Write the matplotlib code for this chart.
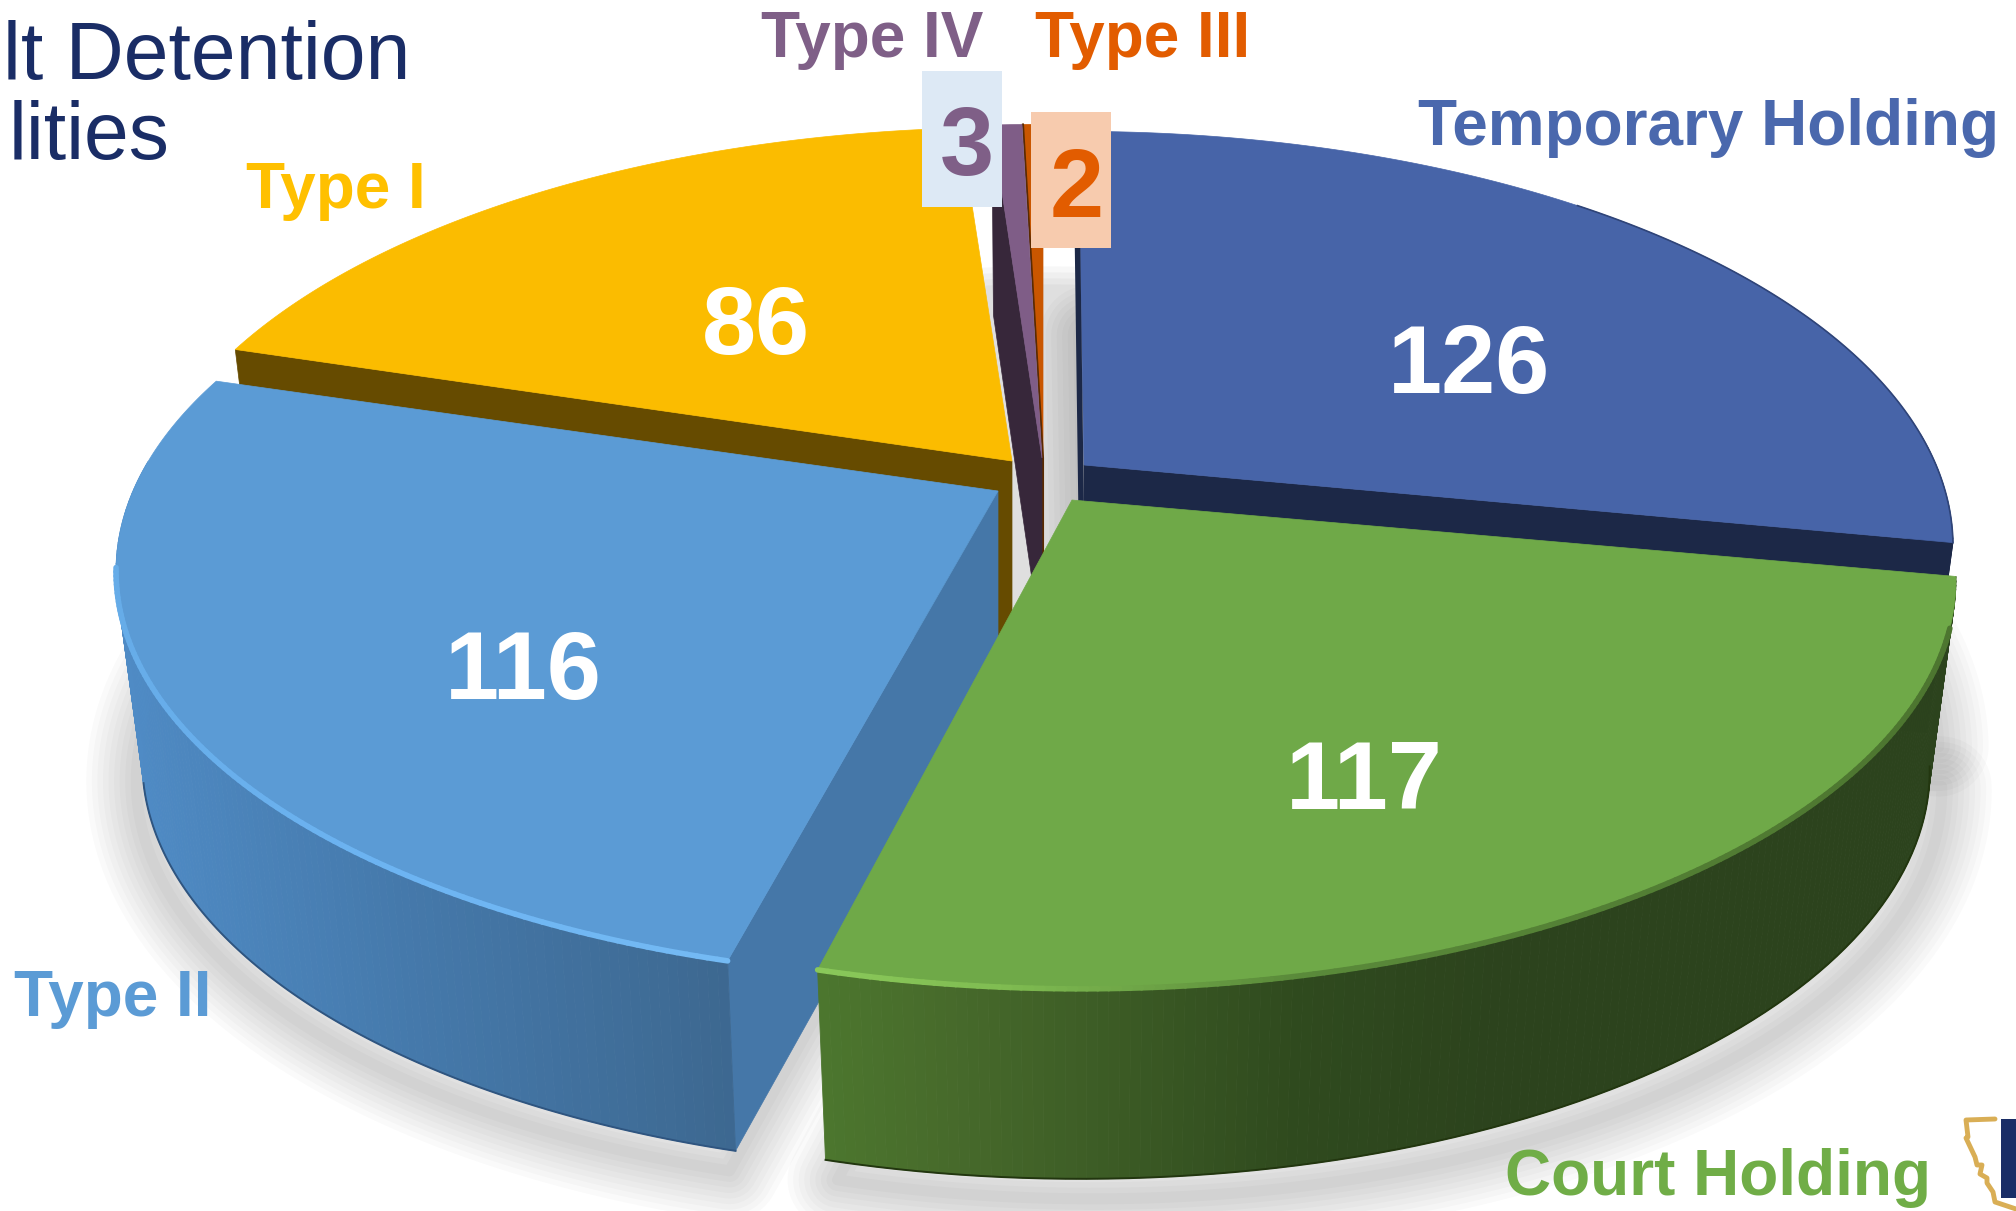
import matplotlib

matplotlib.use("Agg")
import matplotlib.pyplot as plt
import numpy as np
from matplotlib.collections import LineCollection, PolyCollection
from matplotlib.colors import to_rgb
from matplotlib.patches import Polygon, Rectangle

plt.rcParams["font.family"] = ["Liberation Sans", "DejaVu Sans"]

# clockwise from twelve o'clock
categories = ["Temporary Holding", "Court Holding", "Type II", "Type I", "Type IV", "Type III"]
values = [126, 117, 116, 86, 3, 2]
colors = ["#4764a8", "#6fa948", "#5b9bd5", "#fbbc00", "#7f5d87", "#c95600"]
label_colors = ["#4a68ad", "#70ad47", "#5b9bd5", "#ffc000", "#7f5f87", "#e25c00"]

# exploded position of each slice tip, in pixels
tip_x = [1084, 1072, 998, 1012, 1042, 1043]
tip_y = [465, 500, 491, 461, 458, 458]
# small per-slice correction of the rim against the tip
rim_shift = [-6, 9, -7, -2, 0, 0]
rim_squash = [1.0, 0.985, 0.985, 1.0, 1.0, 1.0]
cut_colors = ["#1c2847", "#4c762e", "#4577a8", "#664b00", "#37273a", "#5a2a00"]
# which cut side of the slice the camera sees
cut_side = ["end", None, "start", "start", "start", None]
draw_order = [0, 5, 4, 3, 2, 1]

# gradient of the outer wall, colour stops against x
wall_stops = {
    0: ([1900, 2000], ["#1c2847", "#1c2847"]),
    1: ([820, 950, 1300, 1500], ["#4c762e", "#476a2b", "#2f4a1e", "#2c431d"]),
    2: ([115, 400, 730], ["#4f8bc5", "#4579ab", "#3d6890"]),
    3: ([200, 400], ["#664b00", "#664b00"]),
    4: ([900, 1100], ["#37273a", "#37273a"]),
    5: ([900, 1100], ["#5a2a00", "#5a2a00"]),
}
base_edge = {1: "#22360f", 2: "#2f5580"}

# perspective of the disc
R = 858
S = 399
K = 0.196
DEPTH = 190
BOTTOM_SCALE = 0.97


def rim_top(theta, i):
    u, v = np.sin(theta), np.cos(theta)
    w = 1 + K * v
    return tip_x[i] + rim_shift[i] + R * u / w, tip_y[i] - rim_squash[i] * S * v / w


def rim_bottom(theta, i):
    u, v = np.sin(theta), np.cos(theta)
    w = 1 + K * v
    return tip_x[i] + rim_shift[i] + BOTTOM_SCALE * R * u / w, tip_y[i] + DEPTH - rim_squash[i] * S * v / w


def lerp_colors(x, stops):
    xs, cols = stops
    rgb = np.array([to_rgb(c) for c in cols])
    return np.column_stack([np.interp(x, xs, rgb[:, n]) for n in range(3)])


def soft_shadow(ax, xy, dx, dy):
    pts = np.column_stack([xy[0] + dx, xy[1] + dy])
    for lw in range(72, 4, -8):
        ax.add_patch(
            Polygon(pts, closed=True, fc="none", ec=(0, 0, 0, 0.018), lw=lw, joinstyle="round", zorder=1)
        )


fig = plt.figure(figsize=(20.16, 12.11), dpi=100)
ax = fig.add_axes([0, 0, 1, 1])
ax.set_xlim(0, 2016)
ax.set_ylim(1211, 0)
ax.axis("off")

edges = np.radians(np.concatenate([[0], np.cumsum(values)]) / np.sum(values) * 360)

# grey floor seen through the narrow gaps between the back slices
floor = np.radians(np.linspace(-25, 8, 40))
fx, fy = rim_bottom(floor, 0)
for off in [0, 6, 12, 18]:
    ax.add_patch(
        Polygon(
            np.column_stack(
                [
                    np.concatenate([[tip_x[0], tip_x[0] - 130], fx - 30]),
                    np.concatenate([[tip_y[0] + 180, tip_y[0] + 180], fy - 55 + off]),
                ]
            ),
            closed=True,
            fc=(0, 0, 0, 0.03),
            ec="none",
            zorder=0.5,
        )
    )

for i in [2, 1, 0]:
    t = np.linspace(edges[i], edges[i + 1], 120)
    bx, by = rim_bottom(t, i)
    sx = np.concatenate([[tip_x[i]], bx])
    sy = np.concatenate([[tip_y[i] + DEPTH], by])
    soft_shadow(ax, (sx, sy), 12 if i < 2 else -6, 20 if i else 14)

z = 2
for i in draw_order:
    t0, t1 = edges[i], edges[i + 1]
    t = np.linspace(t0, t1, 160)

    # flat cut face
    if cut_side[i]:
        tc = t1 if cut_side[i] == "end" else t0
        face = [rim_top(tc, i), (tip_x[i], tip_y[i]), (tip_x[i], tip_y[i] + DEPTH), rim_bottom(tc, i)]
        ax.add_patch(Polygon(face, closed=True, fc=cut_colors[i], ec=cut_colors[i], lw=0.5, zorder=z))
        z += 1

    # outer wall, only the part turned to the camera
    tw = t[np.cos(t) < 0.08]
    if len(tw) > 1:
        tx, ty = rim_top(tw, i)
        bx, by = rim_bottom(tw, i)
        quads = [
            [(tx[n], ty[n]), (tx[n + 1], ty[n + 1]), (bx[n + 1], by[n + 1]), (bx[n], by[n])]
            for n in range(len(tw) - 1)
        ]
        wall = lerp_colors((tx[:-1] + tx[1:]) / 2, wall_stops[i])
        ax.add_collection(PolyCollection(quads, facecolors=wall, edgecolors=wall, linewidths=0.6, zorder=z))
        z += 1
        if i in base_edge:
            # stop at the outermost point of the base, the rest curves behind the wall
            front = np.sin(tw) * np.sign(np.sin(tw[-1])) < 0.97
            ax.plot(bx[front], by[front], color=base_edge[i], lw=1.4, zorder=z)
            z += 1

    # top surface
    tx, ty = rim_top(t, i)
    top = np.column_stack([np.concatenate([[tip_x[i]], tx]), np.concatenate([[tip_y[i]], ty])])
    ax.add_patch(Polygon(top, closed=True, fc=colors[i], ec=colors[i], lw=0.5, zorder=z))
    z += 1

    # bevel light along the front rim
    if categories[i] in ("Type II", "Court Holding"):
        pts = np.column_stack([tx, ty]).reshape(-1, 1, 2)
        segs = np.concatenate([pts[:-1], pts[1:]], axis=1)
        if categories[i] == "Type II":
            mask = ty[:-1] > 570
            glow = lerp_colors(tx[:-1], ([115, 400, 730], ["#66ace8", "#6db4f2", "#74baf4"]))
        else:
            mask = tx[:-1] < 1950
            glow = lerp_colors(tx[:-1], ([820, 1000, 1300, 1900], ["#8ac85a", "#80bd52", "#5a8a3a", "#4d7630"]))
        ax.add_collection(LineCollection(segs[mask], colors=glow[mask], linewidths=4, capstyle="round", zorder=z))
        z += 1

    # thin dark seams
    if categories[i] == "Temporary Holding":
        ax.plot(
            [tip_x[i] - 8, tip_x[i] - 3],
            [tip_y[i] - 333, tip_y[i] + 35],
            color=cut_colors[i],
            lw=4,
            zorder=z - 1,
        )
        tn = t[np.cos(t) < 0.75]
        ex, ey = rim_top(tn, i)
        ax.plot(ex, ey, color="#2f4478", lw=1.2, zorder=z)
        z += 1
    if categories[i] == "Type III":
        x0, y0 = rim_top(t0, i)
        ax.plot([x0, tip_x[i], tip_x[i]], [y0, tip_y[i], tip_y[i] + 100], color=cut_colors[i], lw=1.5, zorder=z)
        z += 1

# value boxes of the two thin slices
ax.add_patch(Rectangle((922, 71), 80, 136, fc="#dde9f5", ec="none", zorder=60))
ax.add_patch(Rectangle((1031, 112), 80, 136, fc="#f7cbae", ec="none", zorder=60))

# values
value_x = [1469, 1364, 523, 756, 967, 1077]
value_y = [358, 774, 664, 319, 140, 182]
value_col = ["white", "white", "white", "white", label_colors[4], label_colors[5]]
for i in range(len(values)):
    ax.text(value_x[i], value_y[i], str(values[i]), color=value_col[i], fontsize=70, fontweight="bold",
            ha="center", va="center_baseline", zorder=70)

# category labels
label_x = [1999, 1931, 212, 426, 983, 1250]
label_y = [145, 1195, 1016, 208, 57, 57]
for i in range(len(categories)):
    ax.text(label_x[i], label_y[i], categories[i], color=label_colors[i], fontsize=46, fontweight="bold",
            ha="right", va="baseline", zorder=70)

# title, only the part the crop leaves visible
ax.text(410, 79, "lt Detention", color="#1a2d66", fontsize=58, ha="right", va="baseline", zorder=70)
ax.text(170, 159, "lities", color="#1a2d66", fontsize=58, ha="right", va="baseline", zorder=70)

# logo fragment in the corner
logo_x = [1995, 1966, 1968, 1966, 1975, 1977, 1982, 1980, 1987, 1987, 1993, 1995, 2016]
logo_y = [1119, 1120, 1137, 1138, 1157, 1165, 1165, 1174, 1178, 1183, 1192, 1202, 1209]
ax.plot(logo_x, logo_y, color="#d9ae55", lw=3.5, solid_capstyle="round", solid_joinstyle="round", zorder=70)
ax.add_patch(Rectangle((2001, 1119), 15, 79, fc="#1a2d66", ec="none", zorder=70))

fig.savefig("out.png", dpi=100)
